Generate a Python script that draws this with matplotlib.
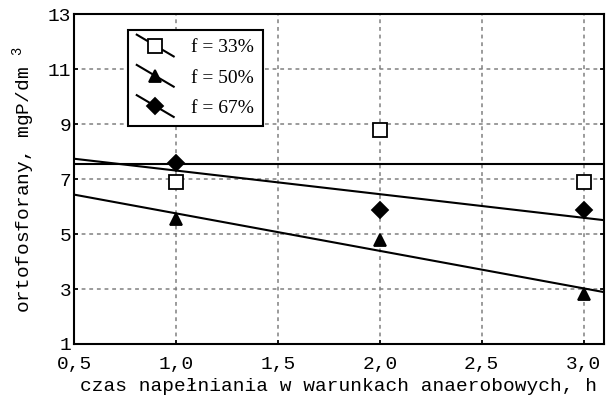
import numpy as np
import matplotlib
matplotlib.use("Agg")
import matplotlib.pyplot as plt
from matplotlib.legend_handler import HandlerLine2D
from matplotlib.lines import Line2D

plt.rcParams['mathtext.fontset'] = 'custom'
plt.rcParams['mathtext.rm'] = 'Liberation Mono'
plt.rcParams['mathtext.it'] = 'Liberation Mono'

x = [1.0, 2.0, 3.0]
f33 = [6.9, 8.8, 6.9]
f50 = [5.55, 4.8, 2.82]
f67 = [7.6, 5.88, 5.88]
labels = ["f = 33%", "f = 50%", "f = 67%"]
xticks = [0.5, 1.0, 1.5, 2.0, 2.5, 3.0]
xticklabels = ["0,5", "1,0", "1,5", "2,0", "2,5", "3,0"]
yticks = [1, 3, 5, 7, 9, 11, 13]

fig = plt.figure(figsize=(6.09, 4.01), dpi=100)
ax = fig.add_axes([74/609, 1-344/401, (604-74)/609, (344-14.3)/401])

series = [(f33, 's', 'white'), (f50, '^', 'black'), (f67, 'D', 'black')]
msizes = {'s': 9.5, '^': 9, 'D': 8}
xx = np.array([0.5, 3.1])
handles = []
for ys, m, fc in series:
    k, b = np.polyfit(x, ys, 1)
    ax.plot(xx, k*xx + b, color='black', lw=1.5, zorder=2)
    ax.plot(x, ys, linestyle='none', marker=m, markersize=msizes[m],
            markerfacecolor=fc, markeredgecolor='black', markeredgewidth=1.3, zorder=3)
    handles.append(Line2D([], [], color='black', lw=1.5, marker=m, markersize=msizes[m],
                          markerfacecolor=fc, markeredgecolor='black', markeredgewidth=1.3))


class DiagHandler(HandlerLine2D):
    def create_artists(self, legend, orig_handle, xdescent, ydescent, width, height, fontsize, trans):
        x0, x1 = -xdescent, -xdescent + width
        y0, y1 = -ydescent + height * 1.3, -ydescent - height * 0.3
        line = Line2D([x0, x1], [y0, y1], color='black', lw=1.5)
        self.update_prop(line, orig_handle, legend)
        line.set_marker('None')
        line.set_transform(trans)
        mk = Line2D([(x0 + x1) / 2], [(y0 + y1) / 2], linestyle='none')
        self.update_prop(mk, orig_handle, legend)
        mk.set_linestyle('none')
        mk.set_transform(trans)
        return [line, mk]


leg = ax.legend(handles, labels, handler_map={Line2D: DiagHandler()},
                loc='upper left', bbox_to_anchor=((128-74)/530, (344-30)/329.7),
                frameon=True, fancybox=False, edgecolor='black', framealpha=1,
                prop={'family': 'Liberation Serif', 'size': 14},
                handlelength=1.9, handletextpad=0.9, labelspacing=0.65,
                borderpad=0.45, borderaxespad=0)
leg.get_frame().set_linewidth(1.5)

ax.set_xlim(0.5, 3.1)
ax.set_ylim(1, 13)
ax.set_xticks(xticks)
ax.set_xticklabels(xticklabels)
ax.set_yticks(yticks)
ax.grid(True, color='#808080', linestyle=(0, (2.5, 2.5)), lw=1.1)
ax.set_axisbelow(True)
for s in ax.spines.values():
    s.set_linewidth(1.5)
ax.tick_params(direction='in', length=3, width=1.2, right=True, top=False,
               labelsize=14, pad=2)
ax.tick_params(axis='x', pad=9)
for t in ax.get_xticklabels() + ax.get_yticklabels():
    t.set_family('Liberation Mono')
ax.set_xlabel("czas napełniania w warunkach anaerobowych, h", family='Liberation Mono',
              fontsize=14, labelpad=3)
ax.set_ylabel(r"ortofosforany, mgP/dm $^{3}$", family='Liberation Mono',
              fontsize=14, labelpad=8)

fig.savefig("out.png", dpi=100)
